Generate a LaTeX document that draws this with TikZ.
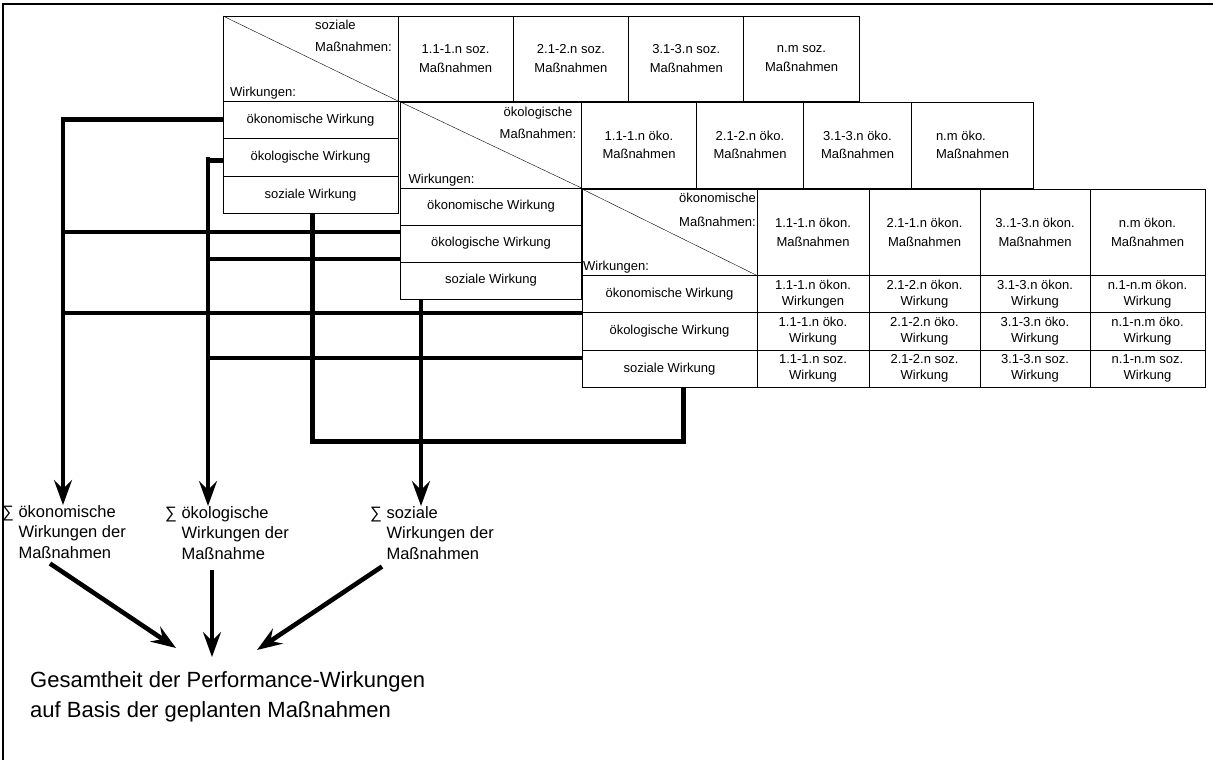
\documentclass[tikz,border=0pt]{standalone}
\usepackage{fontspec}
\setmainfont{Liberation Sans}
\usetikzlibrary{positioning,arrows.meta}

\tikzset{
  cell/.style={draw,fill=white,outer sep=0pt,inner sep=0pt,line width=0.9pt,align=center,
    font=\fontsize{13}{18.5}\selectfont},
  lbl/.style={inner sep=0pt,font=\fontsize{13}{22}\selectfont},
  entry/.style={inner sep=0pt,align=center,font=\fontsize{13}{16}\selectfont},
  bus/.style={line width=4.6pt},
  arr/.style={bus,-{Stealth[length=25pt,width=18pt,inset=9pt]}},
  sumlbl/.style={inner sep=0pt,align=left,anchor=north west,font=\fontsize{16.5}{20.5}\selectfont},
}
\newcommand\wsum{\hphantom{∑ }}

\begin{document}
\begin{tikzpicture}[x=1pt,y=-1pt]
\useasboundingbox (0,0) rectangle (1213,760);
\draw[line width=1.5pt] (3,760) -- (3,4) -- (1213,4);

% soziale Massnahmen
\node[cell,anchor=north west,minimum width=175,minimum height=85] (t1-c0) at (223,16) {};
\draw[thin] (t1-c0.north west) -- (t1-c0.south east);
\node[lbl,align=left,anchor=north east] at ([xshift=-6pt,yshift=-4pt]t1-c0.north east) {soziale\\Maßnahmen:};
\node[lbl,anchor=base west] at ([xshift=7pt,yshift=5pt]t1-c0.south west) {Wirkungen:};
\foreach \t [count=\i, remember=\i as \j (initially 0)] in {1.1-1.n soz., 2.1-2.n soz., 3.1-3.n soz., n.m soz.}
  \node[cell,minimum width=115.3,minimum height=85,right=0pt of t1-c\j] (t1-c\i) {\t\\Maßnahmen};
\foreach \n/\t [remember=\n as \p (initially c0)] in {oek/ökonomische Wirkung, oeko/ökologische Wirkung, soz/soziale Wirkung}
  \node[cell,minimum width=175,minimum height=37.5,below=0pt of t1-\p.south west,anchor=north west] (t1-\n) {\t};

% oekologische Massnahmen
\node[cell,anchor=north west,minimum width=181,minimum height=86] (t2-c0) at (400.5,102) {};
\draw[thin] (t2-c0.north west) -- (t2-c0.south east);
\node[lbl,align=center,anchor=north east] at ([xshift=-5pt,yshift=-5pt]t2-c0.north east) {ökologische\\Maßnahmen:};
\node[lbl,anchor=base west] at ([xshift=8pt,yshift=5pt]t2-c0.south west) {Wirkungen:};
\foreach \t/\w/\a [count=\i, remember=\i as \j (initially 0)] in {1.1-1.n öko./115/center, 2.1-2.n öko./107/center, 3.1-3.n öko./108/center, n.m öko./122/left}
  \node[cell,align=\a,minimum width=\w,minimum height=86,right=0pt of t2-c\j] (t2-c\i) {\t\\Maßnahmen};
\foreach \n/\t [remember=\n as \p (initially c0)] in {oek/ökonomische Wirkung, oeko/ökologische Wirkung, soz/soziale Wirkung}
  \node[cell,minimum width=181,minimum height=37,below=0pt of t2-\p.south west,anchor=north west] (t2-\n) {\t};

% oekonomische Massnahmen
\node[cell,anchor=north west,minimum width=175,minimum height=86.5] (t3-c0) at (582,189) {};
\draw[thin] (t3-c0.north west) -- (t3-c0.south east);
\node[lbl,align=right,anchor=north east,font=\fontsize{13}{24}\selectfont] at ([xshift=-1pt,yshift=-4pt]t3-c0.north east) {ökonomische\\Maßnahmen:};
\node[lbl,anchor=base west] at ([xshift=1pt,yshift=5pt]t3-c0.south west) {Wirkungen:};
\foreach \t/\w [count=\i, remember=\i as \j (initially 0)] in {1.1-1.n ökon./112, 2.1-1.n ökon./111, 3..1-3.n ökon./110, n.m ökon./115}
  \node[cell,minimum width=\w,minimum height=86.5,right=0pt of t3-c\j] (t3-c\i) {\t\\Maßnahmen};
\foreach \n/\t [remember=\n as \p (initially c0)] in {oek/ökonomische Wirkung, oeko/ökologische Wirkung, soz/soziale Wirkung}
  \node[cell,minimum width=175,minimum height=37.3,below=0pt of t3-\p.south west,anchor=north west] (t3-\n) {\t};
\foreach \n/\s/\e in {oek/ökon./Wirkungen, oeko/öko./Wirkung, soz/soz./Wirkung}
  \foreach \c [count=\k] in {1.1-1.n, 2.1-2.n, 3.1-3.n, n.1-n.m} {
    \draw[line width=0.9pt] (t3-c\k.west |- t3-\n.north) rectangle (t3-c\k.east |- t3-\n.south);
    \node[entry] (t3-\n-\k) at (t3-c\k |- t3-\n) {\c\ \s\\\ifnum\k=1\relax\e\else Wirkung\fi};
  }

% Summen
\node[sumlbl] (sumoek) at (2,505) {∑ ökonomische\\\wsum Wirkungen der\\\wsum Maßnahmen};
\node[sumlbl] (sumoeko) at (165,506) {∑ ökologische\\\wsum Wirkungen der\\\wsum Maßnahme};
\node[sumlbl] (sumsoz) at (370,506) {∑ soziale\\\wsum Wirkungen der\\\wsum Maßnahmen};
\node[inner sep=0pt,align=left,anchor=north west,font=\fontsize{22}{30}\selectfont] (gesamt) at (30,671)
  {Gesamtheit der Performance-Wirkungen\\auf Basis der geplanten Maßnahmen};

% oekonomische Wirkungen
\coordinate (oekbus) at (63,0);
\draw[arr] (t1-oek.west) -| (oekbus |- sumoek.north);
\draw[bus] ([yshift=-7pt]t2-oeko.north west) -| (oekbus |- t1-oek.west);
\draw[bus] (t3-oek.south west) -| (oekbus |- t1-oek.west);

% oekologische Wirkungen
\coordinate (oekobus) at (208,0);
\draw[arr] ([yshift=-3pt]t1-oeko.west) -| (oekobus |- sumoeko.north);
\draw[bus] ([yshift=3pt]t2-oeko.south west) -| (oekobus |- t1-oeko.west);
\draw[bus] ([yshift=-8pt]t3-oeko.south west) -| (oekobus |- t1-oeko.west);

% soziale Wirkungen
\coordinate (sozbus) at ([xshift=-70pt]t2-soz.south);
\coordinate (sozloop) at ([xshift=14pt]t3-soz.south);
\draw[bus] ([xshift=2pt]t1-soz.south) -- ++(0,228) -| (sozloop);
\draw[arr] (sozbus) -- (sozbus |- sumsoz.north);

% Gesamtheit
\coordinate (in1) at (176,648);
\coordinate (in2) at (212,657);
\coordinate (in3) at (257,650);
\draw[arr] ([xshift=48pt,yshift=-5pt]sumoek.south west) -- (in1);
\draw[arr] ([xshift=47pt,yshift=-10pt]sumoeko.south west) -- (in2);
\draw[arr] ([xshift=12pt,yshift=-7pt]sumsoz.south west) -- (in3);
\end{tikzpicture}
\end{document}
